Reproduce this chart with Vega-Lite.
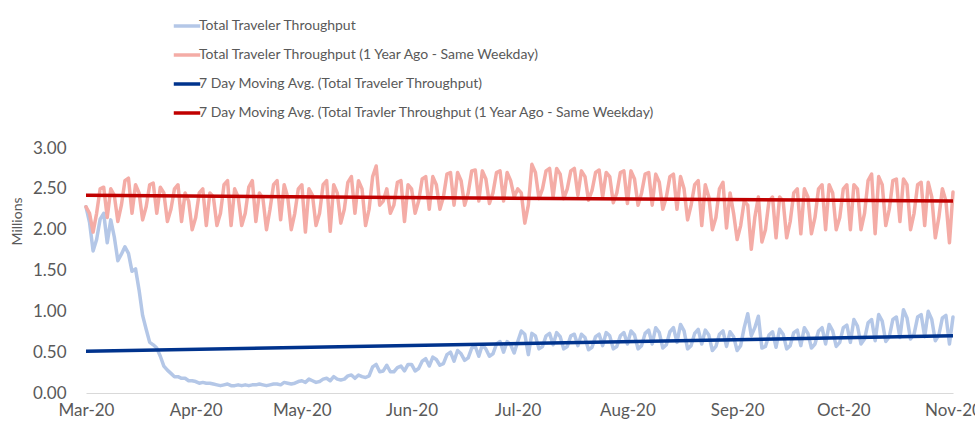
{
"$schema":"https://vega.github.io/schema/vega-lite/v6.json",
"width":867,"height":245,
"autosize":{"type":"none"},
"padding":{"left":86,"top":148,"right":22,"bottom":31},
"background":"white",
"config":{"view":{"stroke":null},"font":"Lato"},
"datasets":{
"daily":[
{"date":"2020-03-01","now":2.28,"ago":2.28},{"date":"2020-03-02","now":2.09,"ago":2.20},{"date":"2020-03-03","now":1.74,"ago":1.97},{"date":"2020-03-04","now":1.88,"ago":2.20},{"date":"2020-03-05","now":2.13,"ago":2.50},{"date":"2020-03-06","now":2.20,"ago":2.52},{"date":"2020-03-07","now":1.84,"ago":2.15},
{"date":"2020-03-08","now":2.12,"ago":2.50},{"date":"2020-03-09","now":1.91,"ago":2.42},{"date":"2020-03-10","now":1.62,"ago":2.10},{"date":"2020-03-11","now":1.70,"ago":2.30},{"date":"2020-03-12","now":1.79,"ago":2.60},{"date":"2020-03-13","now":1.71,"ago":2.63},{"date":"2020-03-14","now":1.49,"ago":2.20},
{"date":"2020-03-15","now":1.52,"ago":2.55},{"date":"2020-03-16","now":1.26,"ago":2.45},{"date":"2020-03-17","now":0.95,"ago":2.12},{"date":"2020-03-18","now":0.78,"ago":2.28},{"date":"2020-03-19","now":0.62,"ago":2.55},{"date":"2020-03-20","now":0.59,"ago":2.57},{"date":"2020-03-21","now":0.55,"ago":2.20},
{"date":"2020-03-22","now":0.45,"ago":2.52},{"date":"2020-03-23","now":0.33,"ago":2.45},{"date":"2020-03-24","now":0.28,"ago":2.10},{"date":"2020-03-25","now":0.24,"ago":2.25},{"date":"2020-03-26","now":0.20,"ago":2.50},{"date":"2020-03-27","now":0.20,"ago":2.55},{"date":"2020-03-28","now":0.18,"ago":2.10},
{"date":"2020-03-29","now":0.18,"ago":2.45},{"date":"2020-03-30","now":0.15,"ago":2.35},{"date":"2020-03-31","now":0.15,"ago":2.00},{"date":"2020-04-01","now":0.14,"ago":2.15},{"date":"2020-04-02","now":0.12,"ago":2.45},{"date":"2020-04-03","now":0.13,"ago":2.50},{"date":"2020-04-04","now":0.12,"ago":2.05},
{"date":"2020-04-05","now":0.12,"ago":2.45},{"date":"2020-04-06","now":0.11,"ago":2.40},{"date":"2020-04-07","now":0.10,"ago":2.05},{"date":"2020-04-08","now":0.09,"ago":2.20},{"date":"2020-04-09","now":0.10,"ago":2.55},{"date":"2020-04-10","now":0.11,"ago":2.60},{"date":"2020-04-11","now":0.09,"ago":2.05},
{"date":"2020-04-12","now":0.09,"ago":2.50},{"date":"2020-04-13","now":0.10,"ago":2.40},{"date":"2020-04-14","now":0.09,"ago":2.05},{"date":"2020-04-15","now":0.10,"ago":2.20},{"date":"2020-04-16","now":0.09,"ago":2.52},{"date":"2020-04-17","now":0.10,"ago":2.60},{"date":"2020-04-18","now":0.10,"ago":2.10},
{"date":"2020-04-19","now":0.11,"ago":2.45},{"date":"2020-04-20","now":0.10,"ago":2.38},{"date":"2020-04-21","now":0.09,"ago":2.00},{"date":"2020-04-22","now":0.10,"ago":2.25},{"date":"2020-04-23","now":0.11,"ago":2.55},{"date":"2020-04-24","now":0.11,"ago":2.60},{"date":"2020-04-25","now":0.10,"ago":2.12},
{"date":"2020-04-26","now":0.13,"ago":2.55},{"date":"2020-04-27","now":0.12,"ago":2.40},{"date":"2020-04-28","now":0.11,"ago":2.00},{"date":"2020-04-29","now":0.12,"ago":2.20},{"date":"2020-04-30","now":0.14,"ago":2.50},{"date":"2020-05-01","now":0.15,"ago":2.55},{"date":"2020-05-02","now":0.13,"ago":1.97},
{"date":"2020-05-03","now":0.17,"ago":2.50},{"date":"2020-05-04","now":0.15,"ago":2.42},{"date":"2020-05-05","now":0.13,"ago":2.05},{"date":"2020-05-06","now":0.14,"ago":2.20},{"date":"2020-05-07","now":0.17,"ago":2.55},{"date":"2020-05-08","now":0.18,"ago":2.60},{"date":"2020-05-09","now":0.15,"ago":1.98},
{"date":"2020-05-10","now":0.20,"ago":2.55},{"date":"2020-05-11","now":0.17,"ago":2.45},{"date":"2020-05-12","now":0.16,"ago":2.08},{"date":"2020-05-13","now":0.17,"ago":2.25},{"date":"2020-05-14","now":0.21,"ago":2.58},{"date":"2020-05-15","now":0.22,"ago":2.65},{"date":"2020-05-16","now":0.18,"ago":2.20},
{"date":"2020-05-17","now":0.22,"ago":2.60},{"date":"2020-05-18","now":0.20,"ago":2.50},{"date":"2020-05-19","now":0.19,"ago":2.05},{"date":"2020-05-20","now":0.21,"ago":2.25},{"date":"2020-05-21","now":0.32,"ago":2.65},{"date":"2020-05-22","now":0.35,"ago":2.78},{"date":"2020-05-23","now":0.26,"ago":2.30},
{"date":"2020-05-24","now":0.27,"ago":2.35},{"date":"2020-05-25","now":0.34,"ago":2.50},{"date":"2020-05-26","now":0.26,"ago":2.20},{"date":"2020-05-27","now":0.26,"ago":2.30},{"date":"2020-05-28","now":0.31,"ago":2.58},{"date":"2020-05-29","now":0.33,"ago":2.60},{"date":"2020-05-30","now":0.27,"ago":2.10},
{"date":"2020-05-31","now":0.35,"ago":2.55},{"date":"2020-06-01","now":0.35,"ago":2.50},{"date":"2020-06-02","now":0.27,"ago":2.20},{"date":"2020-06-03","now":0.30,"ago":2.35},{"date":"2020-06-04","now":0.39,"ago":2.62},{"date":"2020-06-05","now":0.42,"ago":2.65},{"date":"2020-06-06","now":0.33,"ago":2.25},
{"date":"2020-06-07","now":0.44,"ago":2.65},{"date":"2020-06-08","now":0.41,"ago":2.55},{"date":"2020-06-09","now":0.34,"ago":2.25},{"date":"2020-06-10","now":0.36,"ago":2.40},{"date":"2020-06-11","now":0.47,"ago":2.68},{"date":"2020-06-12","now":0.50,"ago":2.70},{"date":"2020-06-13","now":0.39,"ago":2.30},
{"date":"2020-06-14","now":0.52,"ago":2.70},{"date":"2020-06-15","now":0.48,"ago":2.60},{"date":"2020-06-16","now":0.40,"ago":2.30},{"date":"2020-06-17","now":0.43,"ago":2.45},{"date":"2020-06-18","now":0.55,"ago":2.72},{"date":"2020-06-19","now":0.57,"ago":2.73},{"date":"2020-06-20","now":0.45,"ago":2.35},
{"date":"2020-06-21","now":0.59,"ago":2.72},{"date":"2020-06-22","now":0.54,"ago":2.62},{"date":"2020-06-23","now":0.45,"ago":2.32},{"date":"2020-06-24","now":0.48,"ago":2.45},{"date":"2020-06-25","now":0.60,"ago":2.70},{"date":"2020-06-26","now":0.63,"ago":2.72},{"date":"2020-06-27","now":0.50,"ago":2.35},
{"date":"2020-06-28","now":0.63,"ago":2.70},{"date":"2020-06-29","now":0.59,"ago":2.60},{"date":"2020-06-30","now":0.49,"ago":2.40},{"date":"2020-07-01","now":0.63,"ago":2.50},{"date":"2020-07-02","now":0.76,"ago":2.45},{"date":"2020-07-03","now":0.72,"ago":2.08},{"date":"2020-07-04","now":0.47,"ago":2.30},
{"date":"2020-07-05","now":0.73,"ago":2.80},{"date":"2020-07-06","now":0.70,"ago":2.70},{"date":"2020-07-07","now":0.54,"ago":2.38},{"date":"2020-07-08","now":0.57,"ago":2.50},{"date":"2020-07-09","now":0.70,"ago":2.72},{"date":"2020-07-10","now":0.73,"ago":2.75},{"date":"2020-07-11","now":0.59,"ago":2.40},
{"date":"2020-07-12","now":0.74,"ago":2.75},{"date":"2020-07-13","now":0.69,"ago":2.68},{"date":"2020-07-14","now":0.54,"ago":2.38},{"date":"2020-07-15","now":0.57,"ago":2.50},{"date":"2020-07-16","now":0.70,"ago":2.72},{"date":"2020-07-17","now":0.72,"ago":2.75},{"date":"2020-07-18","now":0.58,"ago":2.42},
{"date":"2020-07-19","now":0.72,"ago":2.72},{"date":"2020-07-20","now":0.68,"ago":2.65},{"date":"2020-07-21","now":0.53,"ago":2.36},{"date":"2020-07-22","now":0.56,"ago":2.48},{"date":"2020-07-23","now":0.69,"ago":2.70},{"date":"2020-07-24","now":0.72,"ago":2.73},{"date":"2020-07-25","now":0.58,"ago":2.40},
{"date":"2020-07-26","now":0.74,"ago":2.70},{"date":"2020-07-27","now":0.70,"ago":2.65},{"date":"2020-07-28","now":0.54,"ago":2.33},{"date":"2020-07-29","now":0.57,"ago":2.45},{"date":"2020-07-30","now":0.70,"ago":2.70},{"date":"2020-07-31","now":0.74,"ago":2.72},{"date":"2020-08-01","now":0.60,"ago":2.32},
{"date":"2020-08-02","now":0.76,"ago":2.72},{"date":"2020-08-03","now":0.71,"ago":2.62},{"date":"2020-08-04","now":0.54,"ago":2.30},{"date":"2020-08-05","now":0.58,"ago":2.45},{"date":"2020-08-06","now":0.73,"ago":2.68},{"date":"2020-08-07","now":0.77,"ago":2.70},{"date":"2020-08-08","now":0.60,"ago":2.30},
{"date":"2020-08-09","now":0.80,"ago":2.68},{"date":"2020-08-10","now":0.74,"ago":2.58},{"date":"2020-08-11","now":0.55,"ago":2.25},{"date":"2020-08-12","now":0.59,"ago":2.40},{"date":"2020-08-13","now":0.75,"ago":2.65},{"date":"2020-08-14","now":0.80,"ago":2.68},{"date":"2020-08-15","now":0.62,"ago":2.25},
{"date":"2020-08-16","now":0.84,"ago":2.65},{"date":"2020-08-17","now":0.76,"ago":2.50},{"date":"2020-08-18","now":0.54,"ago":2.12},{"date":"2020-08-19","now":0.58,"ago":2.30},{"date":"2020-08-20","now":0.73,"ago":2.55},{"date":"2020-08-21","now":0.78,"ago":2.60},{"date":"2020-08-22","now":0.60,"ago":2.05},
{"date":"2020-08-23","now":0.77,"ago":2.55},{"date":"2020-08-24","now":0.71,"ago":2.40},{"date":"2020-08-25","now":0.52,"ago":2.00},{"date":"2020-08-26","now":0.57,"ago":2.15},{"date":"2020-08-27","now":0.72,"ago":2.50},{"date":"2020-08-28","now":0.76,"ago":2.58},{"date":"2020-08-29","now":0.57,"ago":2.02},
{"date":"2020-08-30","now":0.75,"ago":2.45},{"date":"2020-08-31","now":0.69,"ago":2.20},{"date":"2020-09-01","now":0.52,"ago":1.88},{"date":"2020-09-02","now":0.58,"ago":2.05},{"date":"2020-09-03","now":0.80,"ago":2.35},{"date":"2020-09-04","now":0.97,"ago":2.30},{"date":"2020-09-05","now":0.70,"ago":1.76},
{"date":"2020-09-06","now":0.80,"ago":2.15},{"date":"2020-09-07","now":0.94,"ago":2.40},{"date":"2020-09-08","now":0.55,"ago":1.85},{"date":"2020-09-09","now":0.57,"ago":2.00},{"date":"2020-09-10","now":0.71,"ago":2.35},{"date":"2020-09-11","now":0.75,"ago":2.40},{"date":"2020-09-12","now":0.56,"ago":1.90},
{"date":"2020-09-13","now":0.78,"ago":2.40},{"date":"2020-09-14","now":0.72,"ago":2.35},{"date":"2020-09-15","now":0.54,"ago":1.90},{"date":"2020-09-16","now":0.58,"ago":2.10},{"date":"2020-09-17","now":0.74,"ago":2.45},{"date":"2020-09-18","now":0.77,"ago":2.50},{"date":"2020-09-19","now":0.58,"ago":1.95},
{"date":"2020-09-20","now":0.80,"ago":2.50},{"date":"2020-09-21","now":0.73,"ago":2.40},{"date":"2020-09-22","now":0.55,"ago":1.95},{"date":"2020-09-23","now":0.60,"ago":2.15},{"date":"2020-09-24","now":0.76,"ago":2.50},{"date":"2020-09-25","now":0.80,"ago":2.55},{"date":"2020-09-26","now":0.60,"ago":2.00},
{"date":"2020-09-27","now":0.84,"ago":2.55},{"date":"2020-09-28","now":0.76,"ago":2.45},{"date":"2020-09-29","now":0.57,"ago":2.00},{"date":"2020-09-30","now":0.62,"ago":2.15},{"date":"2020-10-01","now":0.80,"ago":2.50},{"date":"2020-10-02","now":0.83,"ago":2.55},{"date":"2020-10-03","now":0.62,"ago":2.00},
{"date":"2020-10-04","now":0.90,"ago":2.55},{"date":"2020-10-05","now":0.82,"ago":2.50},{"date":"2020-10-06","now":0.60,"ago":2.00},{"date":"2020-10-07","now":0.66,"ago":2.20},{"date":"2020-10-08","now":0.86,"ago":2.60},{"date":"2020-10-09","now":0.90,"ago":2.68},{"date":"2020-10-10","now":0.64,"ago":1.95},
{"date":"2020-10-11","now":0.96,"ago":2.65},{"date":"2020-10-12","now":0.88,"ago":2.55},{"date":"2020-10-13","now":0.63,"ago":2.05},{"date":"2020-10-14","now":0.69,"ago":2.25},{"date":"2020-10-15","now":0.90,"ago":2.60},{"date":"2020-10-16","now":0.93,"ago":2.62},{"date":"2020-10-17","now":0.68,"ago":2.10},
{"date":"2020-10-18","now":1.02,"ago":2.62},{"date":"2020-10-19","now":0.92,"ago":2.55},{"date":"2020-10-20","now":0.66,"ago":2.00},{"date":"2020-10-21","now":0.72,"ago":2.20},{"date":"2020-10-22","now":0.93,"ago":2.55},{"date":"2020-10-23","now":0.96,"ago":2.58},{"date":"2020-10-24","now":0.69,"ago":2.05},
{"date":"2020-10-25","now":1.00,"ago":2.58},{"date":"2020-10-26","now":0.90,"ago":2.40},{"date":"2020-10-27","now":0.64,"ago":1.90},{"date":"2020-10-28","now":0.71,"ago":2.15},{"date":"2020-10-29","now":0.92,"ago":2.50},{"date":"2020-10-30","now":0.95,"ago":2.35},{"date":"2020-10-31","now":0.60,"ago":1.84},
{"date":"2020-11-01","now":0.93,"ago":2.46}
],
"trend":[
{"date":"2020-03-01","series":"maNow","value":0.51},
{"date":"2020-11-01","series":"maNow","value":0.70},
{"date":"2020-03-01","series":"maAgo","value":2.42},
{"date":"2020-11-01","series":"maAgo","value":2.35}
]
},
"encoding":{
"x":{"field":"date","type":"temporal",
"scale":{"type":"utc","domain":[1583020800000,1604188800000]},
"axis":{"title":null,"labelExpr":"utcFormat(datum.value, '%b-%y')",
"values":[1583020800000,1585699200000,1588291200000,1590969600000,1593561600000,1596240000000,1598918400000,1601510400000,1604188800000],
"grid":false,"ticks":false,"tickSize":0,"domainColor":"#d9d9d9","domainWidth":1,
"labelFontSize":17,"labelColor":"#595959","labelPadding":9,"labelFlush":false,"labelOverlap":false,"labelBound":false}},
"y":{"field":"value","type":"quantitative",
"scale":{"domain":[0,3],"nice":false,"zero":true},
"axis":{"title":"Millions","titleFontSize":14,"titleFontWeight":"normal","titleColor":"#595959","titleX":-69,"titleY":73,"titleBaseline":"middle","titleAlign":"center",
"values":[0,0.5,1,1.5,2,2.5,3],"format":".2f","grid":false,"domain":false,"ticks":false,"tickSize":0,
"labelFontSize":17,"labelColor":"#595959","labelPadding":20}},
"color":{"field":"series","type":"nominal",
"scale":{"domain":["now","ago","maNow","maAgo"],"range":["#b4c7e7","#f4aca6","#00338d","#c00000"]},
"legend":{"orient":"none","legendX":86,"legendY":-137,"title":null,"symbolType":"stroke","symbolSize":700,"symbolStrokeWidth":3.5,
"labelFontSize":14,"labelColor":"#595959","rowPadding":7,"labelOffset":-3,"labelLimit":0,
"labelExpr":"{'now':'Total Traveler Throughput','ago':'Total Traveler Throughput (1 Year Ago - Same Weekday)','maNow':'7 Day Moving Avg. (Total Traveler Throughput)','maAgo':'7 Day Moving Avg. (Total Travler Throughput (1 Year Ago - Same Weekday)'}[datum.value]"}}
},
"layer":[
{"data":{"name":"daily"},
"transform":[{"fold":["now","ago"],"as":["series","value"]}],
"mark":{"type":"line","strokeWidth":3.5,"strokeJoin":"round","strokeCap":"round"}},
{"data":{"name":"trend"},
"mark":{"type":"line","strokeWidth":3.5,"strokeCap":"butt"}}
]
}
